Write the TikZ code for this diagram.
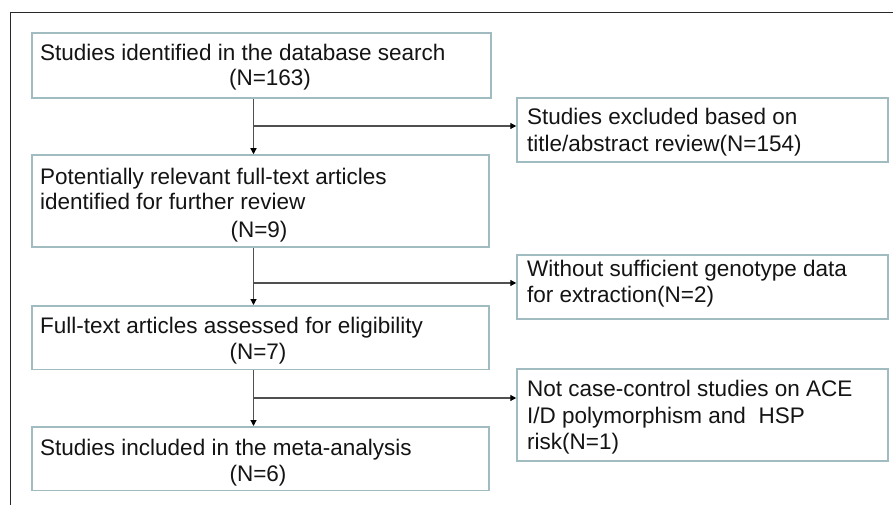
\documentclass[tikz,border=0pt]{standalone}
\usepackage{fontspec}
\setmainfont{Liberation Sans}
\usetikzlibrary{arrows.meta}
\definecolor{boxline}{RGB}{160,188,192}
\definecolor{conn}{RGB}{80,80,80}
\definecolor{txt}{RGB}{20,20,20}
\definecolor{frame}{RGB}{40,40,40}
\begin{document}
\begin{tikzpicture}[x=1pt,y=-1pt,
  box/.style={draw=boxline,line width=1.5pt,rectangle,inner sep=0pt,fill=white},
  lbl/.style={inner sep=0pt,text=txt,font=\fontsize{22.5}{25.5}\selectfont},
  arr/.style={draw=conn,line width=1.2pt,-{Triangle[length=6pt,width=6pt,color=black]}},
  ln/.style={draw=conn,line width=1.2pt}]
\useasboundingbox (0,0) rectangle (893,505);
\fill[white] (0,0) rectangle (893,505);
% frame (top and left edges visible)
\draw[frame,line width=1.8pt] (10.5,505) -- (10.5,12.5) -- (893,12.5);
% main boxes
\node[box,minimum width=459pt,minimum height=65pt] (b1) at (261.5,65.5) {};
\node[box,minimum width=457pt,minimum height=92pt] (b2) at (260.5,201) {};
\node[box,minimum width=457pt,minimum height=63.5pt] (b3) at (260.5,337.5) {};
\node[box,minimum width=457pt,minimum height=63.5pt] (b4) at (260.5,458.5) {};
% side boxes
\node[box,minimum width=371pt,minimum height=64pt] (r1) at (702.5,130) {};
\node[box,minimum width=371pt,minimum height=64pt] (r2) at (702.5,287) {};
\node[box,minimum width=371pt,minimum height=92pt] (r3) at (702.5,415) {};
% texts
\node[lbl,anchor=base west] (t1a) at (40,61) {Studies identified in the database search};
\node[lbl,anchor=base] (t1b) at (270,86) {(N=163)};
\node[lbl,anchor=base west] (t2a) at (40,184) {Potentially relevant full-text articles};
\node[lbl,anchor=base west] (t2b) at (40,209) {identified for further review};
\node[lbl,anchor=base] (t2c) at (259,237) {(N=9)};
\node[lbl,anchor=base west] (t3a) at (40,333) {Full-text articles assessed for eligibility};
\node[lbl,anchor=base] (t3b) at (258,359) {(N=7)};
\node[lbl,anchor=base west] (t4a) at (40,455) {Studies included in the meta-analysis};
\node[lbl,anchor=base] (t4b) at (258,481) {(N=6)};
\node[lbl,anchor=base west] (s1a) at (527,125) {Studies excluded based on};
\node[lbl,anchor=base west] (s1b) at (527,152) {title/abstract review(N=154)};
\node[lbl,anchor=base west] (s2a) at (527,276) {Without sufficient genotype data};
\node[lbl,anchor=base west] (s2b) at (527,302) {for extraction(N=2)};
\node[lbl,anchor=base west] (s3a) at (527,396) {Not case-control studies on ACE};
\node[lbl,anchor=base west] (s3b) at (527,423) {I/D polymorphism and\ \ HSP};
\node[lbl,anchor=base west] (s3c) at (527,449) {risk(N=1)};
% connectors
\coordinate (vx) at (253.5,0);
\coordinate (j1) at (253.5,126);
\coordinate (j2) at (253.5,283);
\coordinate (j3) at (253.5,398);
\draw[arr] (b1.south -| vx) -- (b2.north -| vx);
\draw[arr] (b2.south -| vx) -- (b3.north -| vx);
\draw[arr] (b3.south -| vx) -- (b4.north -| vx);
\draw[arr] (j1) -- (j1 -| r1.west);
\draw[arr] (j2) -- (j2 -| r2.west);
\draw[arr] (j3) -- (j3 -| r3.west);
\end{tikzpicture}
\end{document}
